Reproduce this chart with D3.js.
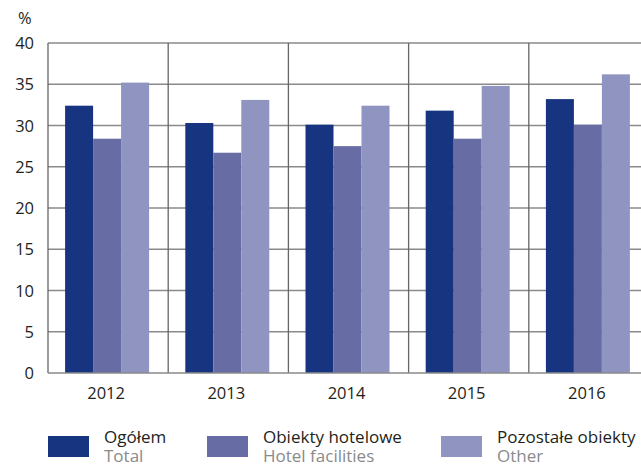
<!DOCTYPE html>
<html><head><meta charset="utf-8">
<script src="https://cdn.jsdelivr.net/npm/d3@7"></script>
<style>body{margin:0;background:#fff}svg{display:block;font-family:"Open Sans",sans-serif}</style>
</head><body><svg id="c" width="641" height="466"></svg>
<script>
const years = ["2012","2013","2014","2015","2016"];
const seriesNames = ["Ogółem","Obiekty hotelowe","Pozostałe obiekty"];
const seriesNamesEn = ["Total","Hotel facilities","Other"];
const total = [32.4, 30.3, 30.1, 31.8, 33.2];
const hotel = [28.4, 26.7, 27.5, 28.4, 30.1];
const other = [35.2, 33.1, 32.4, 34.8, 36.2];
const yTicks = [0,5,10,15,20,25,30,35,40];
const colors = ["#16347f","#676ca5","#8f94c0"];

const svg = d3.select("#c");
const L=48, T=43, B=373, bandW=120.2;
const x = d3.scaleBand().domain(years).range([L, L+bandW*years.length]);
const y = d3.scaleLinear().domain([0,40]).range([B,T]);
const inner = d3.scaleBand().domain([0,1,2]).range([0,84]);

svg.append("g").selectAll("line").data(yTicks.filter(d=>d>0)).join("line")
  .attr("x1",L).attr("x2",641).attr("y1",d=>y(d)).attr("y2",d=>y(d))
  .attr("stroke","#8a8a8a").attr("stroke-width",1.6);
svg.append("g").selectAll("line").data(years).join("line")
  .attr("x1",d=>x(d)).attr("x2",d=>x(d)).attr("y1",T).attr("y2",B)
  .attr("stroke","#666").attr("stroke-width",1.3);

const data = [total, hotel, other];
const groups = svg.append("g");
data.forEach((vals,si)=>{
  groups.append("g").selectAll("rect").data(years).join("rect")
    .attr("x",(d,i)=>x(d)+ (x.bandwidth()-84)/2 - 1 + inner(si))
    .attr("width",inner.bandwidth())
    .attr("y",(d,i)=>y(vals[i]))
    .attr("height",(d,i)=>B-y(vals[i]))
    .attr("fill",colors[si]);
});
svg.append("line").attr("x1",L).attr("x2",641).attr("y1",B).attr("y2",B).attr("stroke","#8a8a8a").attr("stroke-width",1.6);

svg.append("g").selectAll("text").data(yTicks).join("text")
  .attr("x",34).attr("y",d=>y(d)+6).attr("text-anchor","end")
  .attr("font-size",16.5).attr("fill","#231f20").text(d=>d);
svg.append("text").attr("x",18).attr("y",24).attr("font-size",16.5).attr("fill","#231f20").text("%");
svg.append("g").selectAll("text").data(years).join("text")
  .attr("x",d=>x(d)+x.bandwidth()/2 -2).attr("y",399).attr("text-anchor","middle")
  .attr("font-size",16.5).attr("fill","#231f20").text(d=>d);

const lx=[48,207,441];
seriesNames.forEach((n,i)=>{
  const g=svg.append("g").attr("transform",`translate(${lx[i]},0)`);
  g.append("rect").attr("x",0).attr("y",436).attr("width",41).attr("height",21).attr("fill",colors[i]);
  g.append("text").attr("x",56).attr("y",443).attr("font-size",17).attr("fill","#231f20").text(n);
  g.append("text").attr("x",56).attr("y",462).attr("font-size",17).attr("fill","#8a8a8a").text(seriesNamesEn[i]);
});
</script></body></html>
